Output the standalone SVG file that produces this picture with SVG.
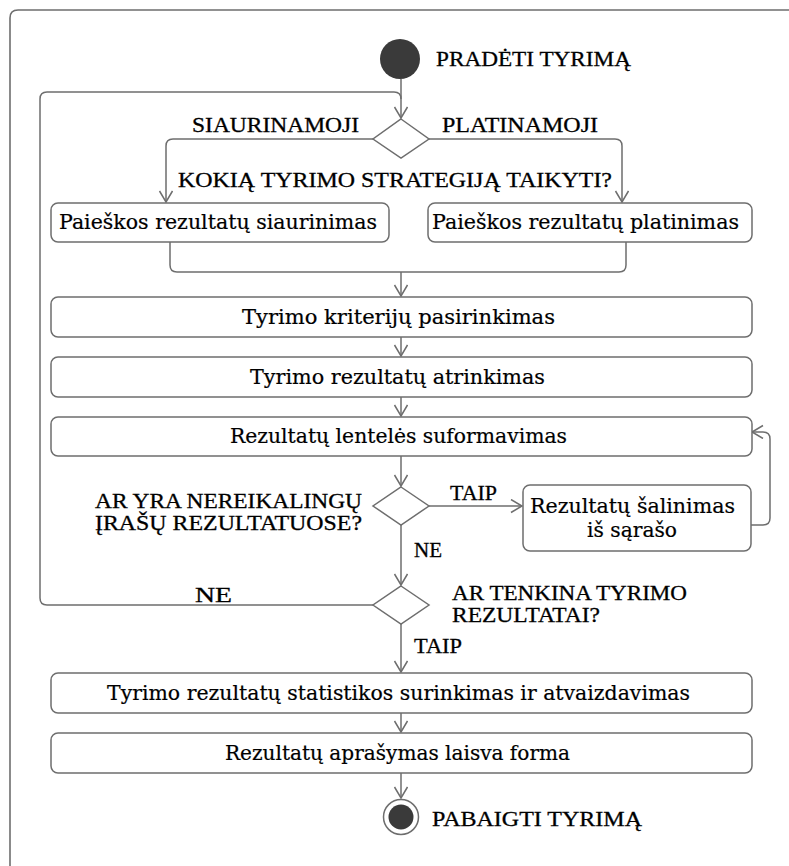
<svg xmlns="http://www.w3.org/2000/svg" width="789" height="866" viewBox="0 0 789 866">
  <style>
    .frame { fill: none; stroke: #6e6e6e; stroke-width: 1.6; }
    .edge { fill: none; stroke: #6e6e6e; stroke-width: 1.5; }
    .act { fill: #ffffff; stroke: #6e6e6e; stroke-width: 1.5; }
    .dec { fill: #ffffff; stroke: #6e6e6e; stroke-width: 1.5; }
    .dot { fill: #3a3a3a; }
    .lbl { font-family: 'Liberation Serif', 'Times New Roman', serif; font-size: 21px; fill: #000; stroke: #000; stroke-width: 0.3; }
    .txt { font-family: 'DejaVu Serif', 'Liberation Serif', serif; font-size: 19.5px; fill: #000; stroke: #000; stroke-width: 0.2; }
  </style>
  <defs>
    <marker id="arr" markerUnits="userSpaceOnUse" markerWidth="16" markerHeight="16" refX="12" refY="7" orient="auto">
      <path d="M1,0.5 L12,7 L1,13.5" fill="none" stroke="#6e6e6e" stroke-width="1.5"/>
    </marker>
  </defs>

  <rect width="789" height="866" fill="#ffffff"/>

  <!-- outer frame -->
  <path class="frame" d="M10,866 V18 Q10,10 18,10 H789"/>

  <!-- connectors -->
  <g id="connectors">
    <path class="edge" d="M401,79 V118" marker-end="url(#arr)"/>
    <path class="edge" d="M373,605 H47 Q40,605 40,598 V99 Q40,92 47,92 H394 Q401,92 401,99"/>
    <path class="edge" d="M373,139 H173 Q166,139 166,146 V202" marker-end="url(#arr)"/>
    <path class="edge" d="M429,139 H615 Q622,139 622,146 V202" marker-end="url(#arr)"/>
    <path class="edge" d="M170,242 V265 Q170,272 177,272 H619 Q626,272 626,265 V242"/>
    <path class="edge" d="M401,272 V296" marker-end="url(#arr)"/>
    <path class="edge" d="M401,337 V356" marker-end="url(#arr)"/>
    <path class="edge" d="M401,397 V416" marker-end="url(#arr)"/>
    <path class="edge" d="M401,456 V486" marker-end="url(#arr)"/>
    <path class="edge" d="M429,506 H522" marker-end="url(#arr)"/>
    <path class="edge" d="M751,525 H763 Q770,525 770,518 V439 Q770,432 763,432 H752" marker-end="url(#arr)"/>
    <path class="edge" d="M401,525 V585" marker-end="url(#arr)"/>
    <path class="edge" d="M401,624 V672" marker-end="url(#arr)"/>
    <path class="edge" d="M401,713 V732" marker-end="url(#arr)"/>
    <path class="edge" d="M401,773 V798" marker-end="url(#arr)"/>
    <text class="lbl" x="192" y="132" textLength="167" lengthAdjust="spacingAndGlyphs">SIAURINAMOJI</text>
    <text class="lbl" x="442" y="132" textLength="156" lengthAdjust="spacingAndGlyphs">PLATINAMOJI</text>
    <text class="lbl" x="450" y="500" textLength="47" lengthAdjust="spacingAndGlyphs">TAIP</text>
    <text class="lbl" x="414" y="557" textLength="28" lengthAdjust="spacingAndGlyphs">NE</text>
    <text class="lbl" x="195" y="602" textLength="37" lengthAdjust="spacingAndGlyphs">NE</text>
    <text class="lbl" x="414" y="653" textLength="48" lengthAdjust="spacingAndGlyphs">TAIP</text>
  </g>

  <!-- start -->
  <g id="start">
    <circle class="dot" cx="400" cy="59" r="20"/>
    <text class="lbl" x="436" y="66" textLength="195" lengthAdjust="spacingAndGlyphs">PRADĖTI TYRIMĄ</text>
  </g>

  <!-- strategy decision -->
  <g id="strategy">
    <polygon class="dec" points="401,119 429,139 401,158 373,139"/>
    <text class="lbl" x="178" y="187" textLength="434" lengthAdjust="spacingAndGlyphs">KOKIĄ TYRIMO STRATEGIJĄ TAIKYTI?</text>
  </g>

  <g id="narrow">
    <rect class="act" x="51" y="203" width="338" height="39" rx="7"/>
    <text class="txt" x="59" y="229" textLength="318" lengthAdjust="spacingAndGlyphs">Paieškos rezultatų siaurinimas</text>
  </g>

  <g id="widen">
    <rect class="act" x="428" y="203" width="324" height="39" rx="7"/>
    <text class="txt" x="432" y="229" textLength="307" lengthAdjust="spacingAndGlyphs">Paieškos rezultatų platinimas</text>
  </g>

  <g id="criteria">
    <rect class="act" x="51" y="297" width="701" height="40" rx="7"/>
    <text class="txt" x="242" y="324" textLength="313" lengthAdjust="spacingAndGlyphs">Tyrimo kriterijų pasirinkimas</text>
  </g>

  <g id="select">
    <rect class="act" x="51" y="357" width="701" height="40" rx="7"/>
    <text class="txt" x="250" y="384" textLength="295" lengthAdjust="spacingAndGlyphs">Tyrimo rezultatų atrinkimas</text>
  </g>

  <g id="table">
    <rect class="act" x="51" y="417" width="701" height="39" rx="7"/>
    <text class="txt" x="230" y="443" textLength="337" lengthAdjust="spacingAndGlyphs">Rezultatų lentelės suformavimas</text>
  </g>

  <g id="unneeded">
    <polygon class="dec" points="401,487 429,506 401,525 373,506"/>
    <text class="lbl" x="95" y="508" textLength="267" lengthAdjust="spacingAndGlyphs">AR YRA NEREIKALINGŲ</text>
    <text class="lbl" x="95" y="530" textLength="267" lengthAdjust="spacingAndGlyphs">ĮRAŠŲ REZULTATUOSE?</text>
  </g>

  <g id="remove">
    <rect class="act" x="523" y="485" width="228" height="66" rx="7"/>
    <text class="txt" x="530" y="513" textLength="205" lengthAdjust="spacingAndGlyphs">Rezultatų šalinimas</text>
    <text class="txt" x="587" y="537" textLength="90" lengthAdjust="spacingAndGlyphs">iš sąrašo</text>
  </g>

  <g id="satisfied">
    <polygon class="dec" points="401,586 429,605 401,624 373,605"/>
    <text class="lbl" x="452" y="600" textLength="235" lengthAdjust="spacingAndGlyphs">AR TENKINA TYRIMO</text>
    <text class="lbl" x="452" y="622" textLength="148" lengthAdjust="spacingAndGlyphs">REZULTATAI?</text>
  </g>

  <g id="stats">
    <rect class="act" x="51" y="673" width="701" height="40" rx="7"/>
    <text class="txt" x="107" y="700" textLength="583" lengthAdjust="spacingAndGlyphs">Tyrimo rezultatų statistikos surinkimas ir atvaizdavimas</text>
  </g>

  <g id="describe">
    <rect class="act" x="51" y="733" width="701" height="40" rx="7"/>
    <text class="txt" x="225" y="760" textLength="345" lengthAdjust="spacingAndGlyphs">Rezultatų aprašymas laisva forma</text>
  </g>

  <g id="end">
    <circle cx="401" cy="817" r="17.5" fill="#ffffff" stroke="#6e6e6e" stroke-width="1.5"/>
    <circle class="dot" cx="401" cy="817" r="12.5"/>
    <text class="lbl" x="432" y="826" textLength="210" lengthAdjust="spacingAndGlyphs">PABAIGTI TYRIMĄ</text>
  </g>
</svg>
